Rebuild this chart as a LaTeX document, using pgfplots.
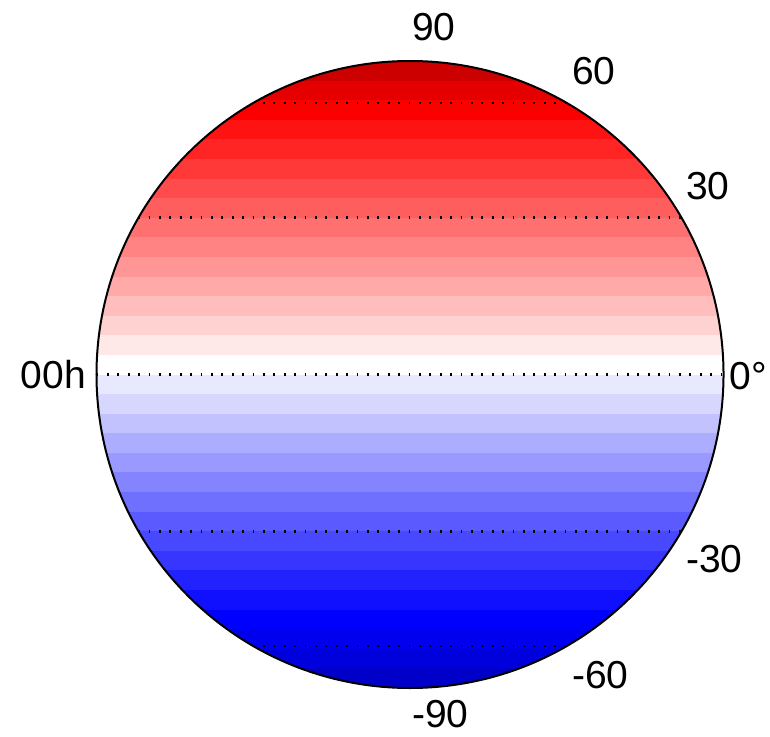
\documentclass[border=0pt]{standalone}
\usepackage{pgfplots}
\pgfplotsset{compat=1.18}
\usepackage{fontspec}
\setmainfont{Liberation Sans}
% band colours, top (north pole) to bottom (south pole)
\definecolor{b1}{RGB}{205,0,0}
\definecolor{b2}{RGB}{228,0,0}
\definecolor{b3}{RGB}{252,0,0}
\definecolor{b4}{RGB}{255,18,18}
\definecolor{b5}{RGB}{255,37,37}
\definecolor{b6}{RGB}{255,56,56}
\definecolor{b7}{RGB}{255,75,75}
\definecolor{b8}{RGB}{255,94,94}
\definecolor{b9}{RGB}{255,113,113}
\definecolor{b10}{RGB}{255,131,131}
\definecolor{b11}{RGB}{255,150,150}
\definecolor{b12}{RGB}{255,169,169}
\definecolor{b13}{RGB}{255,189,189}
\definecolor{b14}{RGB}{255,210,210}
\definecolor{b15}{RGB}{255,232,232}
\definecolor{b16}{RGB}{255,255,255}
\definecolor{b17}{RGB}{232,232,255}
\definecolor{b18}{RGB}{214,214,255}
\definecolor{b19}{RGB}{194,194,255}
\definecolor{b20}{RGB}{173,173,255}
\definecolor{b21}{RGB}{153,153,255}
\definecolor{b22}{RGB}{132,132,255}
\definecolor{b23}{RGB}{112,112,255}
\definecolor{b24}{RGB}{90,90,255}
\definecolor{b25}{RGB}{72,72,255}
\definecolor{b26}{RGB}{54,54,255}
\definecolor{b27}{RGB}{34,34,255}
\definecolor{b28}{RGB}{16,16,255}
\definecolor{b29}{RGB}{0,0,255}
\definecolor{b30}{RGB}{0,0,238}
\definecolor{b31}{RGB}{0,0,220}
\definecolor{b32}{RGB}{0,0,200}
\begin{document}
\begin{tikzpicture}
\begin{axis}[
  scale only axis, width=770pt, height=736pt,
  xmin=-1.3078, xmax=1.1483, ymin=-1.1531, ymax=1.1946,
  hide axis, clip=false,
]
\begin{scope}
\clip (axis cs:0,0) circle [radius=1];
% each band is filled from its upper edge (sin of latitude) downward;
% the next band paints over the lower part
\addplot[fill=b1,draw=none] coordinates {(-1.05,1.0000) (1.05,1.0000) (1.05,-1.05) (-1.05,-1.05)};
\addplot[fill=b2,draw=none] coordinates {(-1.05,0.9375) (1.05,0.9375) (1.05,-1.05) (-1.05,-1.05)};
\addplot[fill=b3,draw=none] coordinates {(-1.05,0.8750) (1.05,0.8750) (1.05,-1.05) (-1.05,-1.05)};
\addplot[fill=b4,draw=none] coordinates {(-1.05,0.8125) (1.05,0.8125) (1.05,-1.05) (-1.05,-1.05)};
\addplot[fill=b5,draw=none] coordinates {(-1.05,0.7500) (1.05,0.7500) (1.05,-1.05) (-1.05,-1.05)};
\addplot[fill=b6,draw=none] coordinates {(-1.05,0.6875) (1.05,0.6875) (1.05,-1.05) (-1.05,-1.05)};
\addplot[fill=b7,draw=none] coordinates {(-1.05,0.6250) (1.05,0.6250) (1.05,-1.05) (-1.05,-1.05)};
\addplot[fill=b8,draw=none] coordinates {(-1.05,0.5625) (1.05,0.5625) (1.05,-1.05) (-1.05,-1.05)};
\addplot[fill=b9,draw=none] coordinates {(-1.05,0.5000) (1.05,0.5000) (1.05,-1.05) (-1.05,-1.05)};
\addplot[fill=b10,draw=none] coordinates {(-1.05,0.4375) (1.05,0.4375) (1.05,-1.05) (-1.05,-1.05)};
\addplot[fill=b11,draw=none] coordinates {(-1.05,0.3750) (1.05,0.3750) (1.05,-1.05) (-1.05,-1.05)};
\addplot[fill=b12,draw=none] coordinates {(-1.05,0.3125) (1.05,0.3125) (1.05,-1.05) (-1.05,-1.05)};
\addplot[fill=b13,draw=none] coordinates {(-1.05,0.2500) (1.05,0.2500) (1.05,-1.05) (-1.05,-1.05)};
\addplot[fill=b14,draw=none] coordinates {(-1.05,0.1875) (1.05,0.1875) (1.05,-1.05) (-1.05,-1.05)};
\addplot[fill=b15,draw=none] coordinates {(-1.05,0.1250) (1.05,0.1250) (1.05,-1.05) (-1.05,-1.05)};
\addplot[fill=b16,draw=none] coordinates {(-1.05,0.0625) (1.05,0.0625) (1.05,-1.05) (-1.05,-1.05)};
\addplot[fill=b17,draw=none] coordinates {(-1.05,0.0000) (1.05,0.0000) (1.05,-1.05) (-1.05,-1.05)};
\addplot[fill=b18,draw=none] coordinates {(-1.05,-0.0625) (1.05,-0.0625) (1.05,-1.05) (-1.05,-1.05)};
\addplot[fill=b19,draw=none] coordinates {(-1.05,-0.1250) (1.05,-0.1250) (1.05,-1.05) (-1.05,-1.05)};
\addplot[fill=b20,draw=none] coordinates {(-1.05,-0.1875) (1.05,-0.1875) (1.05,-1.05) (-1.05,-1.05)};
\addplot[fill=b21,draw=none] coordinates {(-1.05,-0.2500) (1.05,-0.2500) (1.05,-1.05) (-1.05,-1.05)};
\addplot[fill=b22,draw=none] coordinates {(-1.05,-0.3125) (1.05,-0.3125) (1.05,-1.05) (-1.05,-1.05)};
\addplot[fill=b23,draw=none] coordinates {(-1.05,-0.3750) (1.05,-0.3750) (1.05,-1.05) (-1.05,-1.05)};
\addplot[fill=b24,draw=none] coordinates {(-1.05,-0.4375) (1.05,-0.4375) (1.05,-1.05) (-1.05,-1.05)};
\addplot[fill=b25,draw=none] coordinates {(-1.05,-0.5000) (1.05,-0.5000) (1.05,-1.05) (-1.05,-1.05)};
\addplot[fill=b26,draw=none] coordinates {(-1.05,-0.5625) (1.05,-0.5625) (1.05,-1.05) (-1.05,-1.05)};
\addplot[fill=b27,draw=none] coordinates {(-1.05,-0.6250) (1.05,-0.6250) (1.05,-1.05) (-1.05,-1.05)};
\addplot[fill=b28,draw=none] coordinates {(-1.05,-0.6875) (1.05,-0.6875) (1.05,-1.05) (-1.05,-1.05)};
\addplot[fill=b29,draw=none] coordinates {(-1.05,-0.7500) (1.05,-0.7500) (1.05,-1.05) (-1.05,-1.05)};
\addplot[fill=b30,draw=none] coordinates {(-1.05,-0.8125) (1.05,-0.8125) (1.05,-1.05) (-1.05,-1.05)};
\addplot[fill=b31,draw=none] coordinates {(-1.05,-0.8750) (1.05,-0.8750) (1.05,-1.05) (-1.05,-1.05)};
\addplot[fill=b32,draw=none] coordinates {(-1.05,-0.9375) (1.05,-0.9375) (1.05,-1.05) (-1.05,-1.05)};
% dotted parallels at 60, 30, 0, -30, -60 degrees (y = sin(lat))
\addplot[black, line width=2.8pt, dash pattern=on 1.8pt off 8.6pt] coordinates {(-1.0,0.8660) (1.0,0.8660)};
\addplot[black, line width=2.8pt, dash pattern=on 1.8pt off 8.6pt] coordinates {(-1.0,0.5000) (1.0,0.5000)};
\addplot[black, line width=2.8pt, dash pattern=on 1.8pt off 8.6pt] coordinates {(-1.0,0.0000) (1.0,0.0000)};
\addplot[black, line width=2.8pt, dash pattern=on 1.8pt off 8.6pt] coordinates {(-1.0,-0.5000) (1.0,-0.5000)};
\addplot[black, line width=2.8pt, dash pattern=on 1.8pt off 8.6pt] coordinates {(-1.0,-0.8660) (1.0,-0.8660)};
\end{scope}
\draw[black, line width=2pt] (axis cs:0,0) circle [radius=1];
\begin{scope}[every node/.style={inner sep=0pt, font=\fontsize{39}{40}\selectfont}]
\node[anchor=west] at (axis cs:0.006,1.107) {90};
\node[anchor=west] at (axis cs:0.517,0.968) {60};
\node[anchor=west] at (axis cs:0.880,0.601) {30};
\node[anchor=west] at (axis cs:1.018,-0.005) {0°};
\node[anchor=west] at (axis cs:0.880,-0.589) {-30};
\node[anchor=west] at (axis cs:0.517,-0.959) {-60};
\node[anchor=west] at (axis cs:0.006,-1.084) {-90};
\node[anchor=east] at (axis cs:-1.033,0.0) {00h};
\end{scope}
\end{axis}
\pgfresetboundingbox
\useasboundingbox (current axis.south west) rectangle (current axis.north east);
\end{tikzpicture}
\end{document}
